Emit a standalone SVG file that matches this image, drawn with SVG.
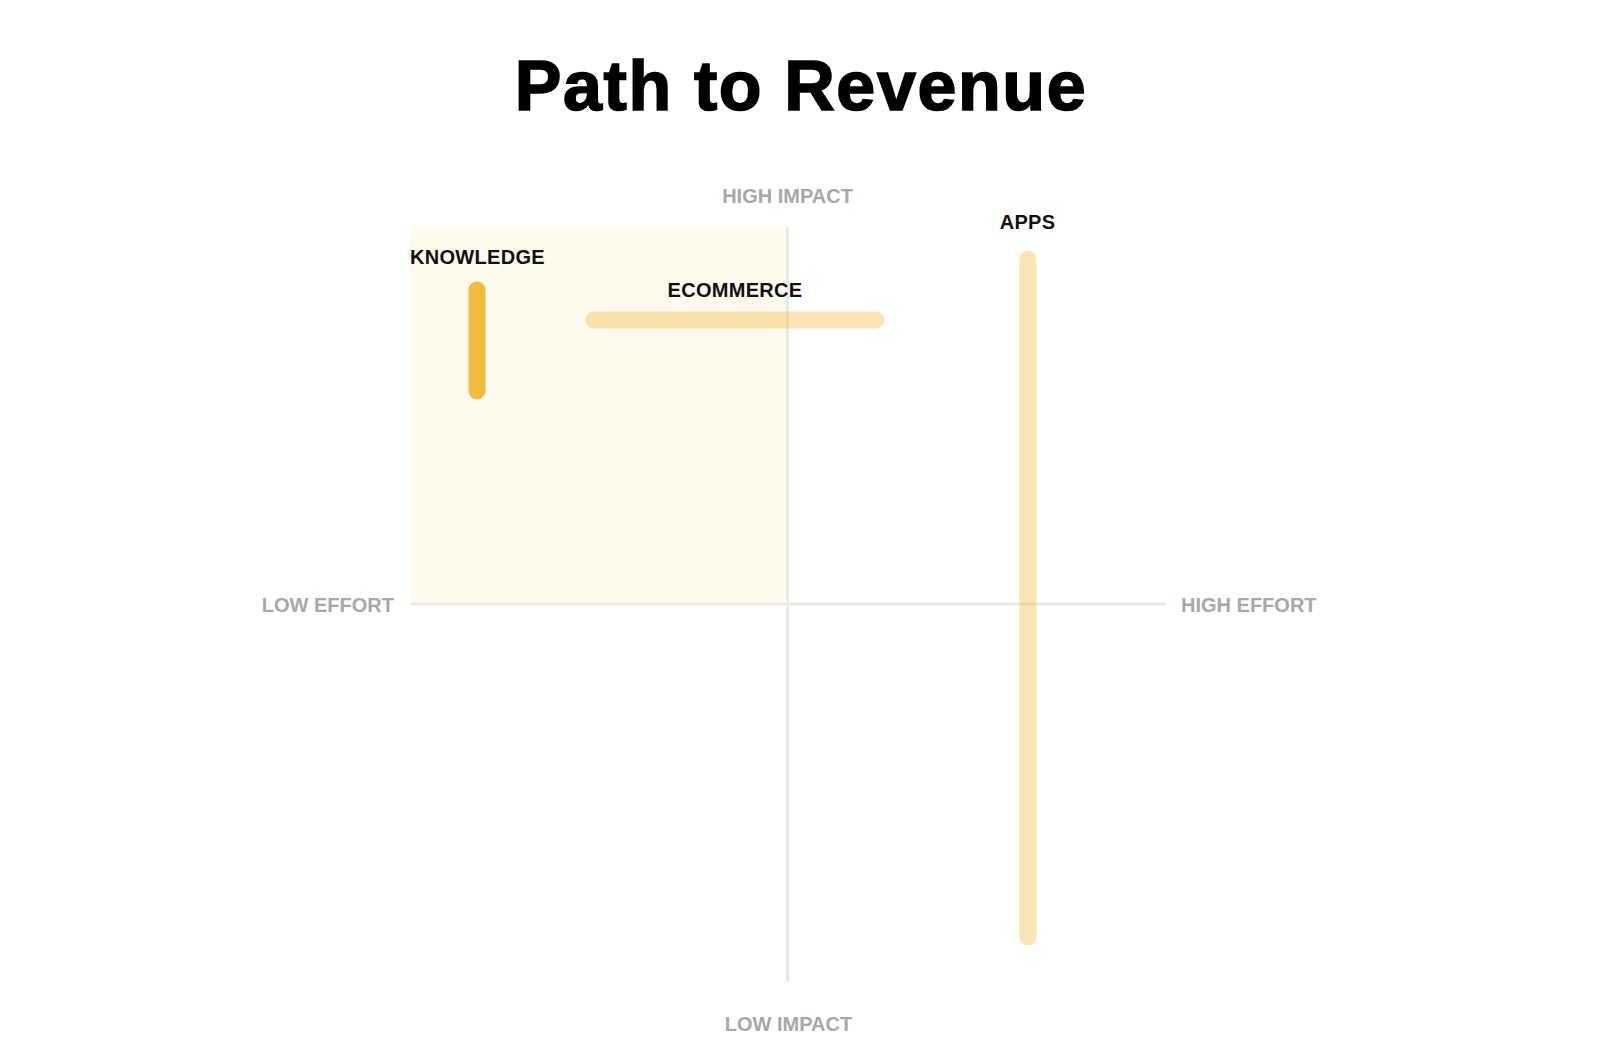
<svg xmlns="http://www.w3.org/2000/svg" width="1600" height="1050" viewBox="0 0 1600 1050">
  <style>
    .title { font-family: "Liberation Sans", Arial, sans-serif; font-weight: 700; font-size: 70px; fill: #000; stroke: #000; stroke-width: 1.6px; letter-spacing: 1.6px; }
    .axis-label { font-family: "Liberation Sans", Arial, sans-serif; font-weight: 700; font-size: 20px; fill: #a8a8a8; }
    .node-label { font-family: "Liberation Sans", Arial, sans-serif; font-weight: 700; font-size: 20px; fill: #111; letter-spacing: 0.3px; }
    .axis { stroke: #e9e9ec; stroke-width: 3; fill: none; }
    .bar { stroke-linecap: round; stroke-width: 17; fill: none; }
    .bar-strong { stroke: #f0bb40; }
    .bar-light { stroke: #f0bb40; stroke-opacity: 0.38; }
  </style>
  <rect width="1600" height="1050" fill="#ffffff"/>
  <text class="title" x="801" y="110" text-anchor="middle">Path to Revenue</text>

  <g id="quadrant">
    <rect x="411" y="227" width="376" height="376" fill="#fefbec"/>
  </g>

  <g id="axes">
    <line class="axis" x1="787.5" y1="227" x2="787.5" y2="982"/>
    <line class="axis" x1="411" y1="604" x2="1166" y2="604"/>
  </g>

  <g id="axis-labels">
    <text class="axis-label" x="787.5" y="203" text-anchor="middle">HIGH IMPACT</text>
    <text class="axis-label" x="788.5" y="1031" text-anchor="middle">LOW IMPACT</text>
    <text class="axis-label" x="394" y="612" text-anchor="end">LOW EFFORT</text>
    <text class="axis-label" x="1181" y="612" text-anchor="start">HIGH EFFORT</text>
  </g>

  <g id="knowledge">
    <line class="bar bar-strong" x1="477" y1="290" x2="477" y2="391"/>
    <text class="node-label" x="477.5" y="264" text-anchor="middle">KNOWLEDGE</text>
  </g>

  <g id="ecommerce">
    <line class="bar bar-light" x1="594" y1="320" x2="876" y2="320"/>
    <text class="node-label" x="735" y="297" text-anchor="middle">ECOMMERCE</text>
  </g>

  <g id="apps">
    <line class="bar bar-light" x1="1028" y1="259" x2="1028" y2="937"/>
    <text class="node-label" x="1027.5" y="229" text-anchor="middle">APPS</text>
  </g>
</svg>
